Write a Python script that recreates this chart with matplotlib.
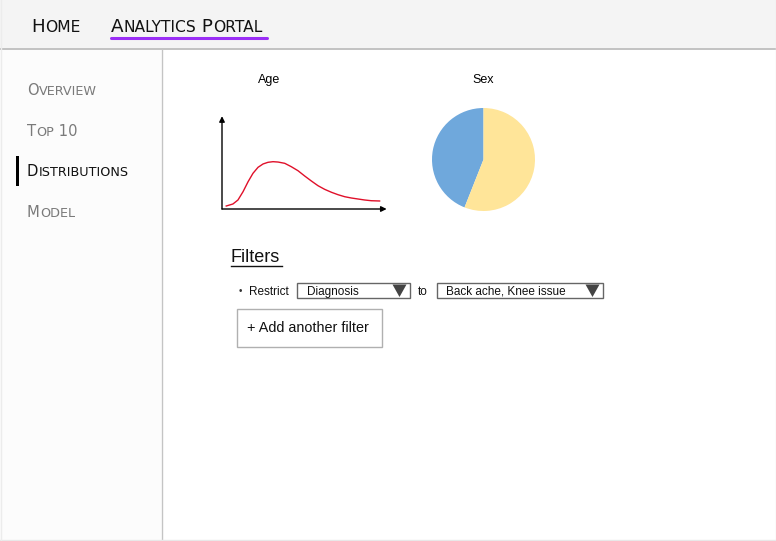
import matplotlib
matplotlib.use("Agg")
import matplotlib.pyplot as plt
from matplotlib.patches import Rectangle, Polygon

# ---------------- data ----------------
header_items = ["Home", "Analytics Portal"]
nav_items = ["Overview", "Top 10", "Distributions", "Model"]
active_nav = "Distributions"

age_title = "Age"
age_x = [2.6, 6.7, 9.8, 12.9, 16.0, 19.0, 22.1, 25.2, 28.2, 31.3, 34.4, 38.5,
         42.5, 46.6, 50.7, 54.8, 58.9, 63.0, 67.1, 71.2, 75.3, 79.3, 83.4,
         87.5, 91.6, 96.7]
age_density = [3.3, 5.5, 9.9, 19.0, 30.0, 39.2, 45.8, 49.5, 51.3, 52.0, 51.6,
               50.2, 46.5, 42.1, 36.3, 30.8, 25.6, 21.6, 18.4, 15.7, 13.5,
               12.1, 11.0, 9.9, 9.1, 8.8]

sex_title = "Sex"
sex_labels = ["Male", "Female"]
sex_values = [44, 56]
sex_colors = ["#6fa8dc", "#ffe599"]

filters_title = "Filters"
filter_field = "Diagnosis"
filter_value = "Back ache, Knee issue"
add_filter_label = "+ Add another filter"

# ---------------- figure ----------------
W, H = 776, 541
fig = plt.figure(figsize=(W / 100, H / 100), dpi=100)
bg = fig.add_axes([0, 0, 1, 1])
bg.set_xlim(0, W)
bg.set_ylim(H, 0)
bg.axis("off")

def fr(x0, y0, x1, y1):
    return [x0 / W, 1 - y1 / H, (x1 - x0) / W, (y1 - y0) / H]

# backgrounds
bg.add_patch(Rectangle((0, 0), W, H, facecolor="white", edgecolor="none"))
bg.add_patch(Rectangle((0, 0), W, 48, facecolor="#f4f4f4", edgecolor="none"))
bg.add_patch(Rectangle((0, 48), 161, H - 48, facecolor="#fcfcfc", edgecolor="none"))
bg.plot([0, W], [48.5, 48.5], color="#b8b8b8", lw=1.2)
bg.plot([161.5, 161.5], [48.5, H], color="#c4c4c4", lw=1.0)
bg.plot([0, W], [539.5, 539.5], color="#e8e8e8", lw=1.0)
bg.plot([0.5, 0.5], [0, H], color="#ececec", lw=1.0)
bg.plot([775.5, 775.5], [0, H], color="#ececec", lw=1.0)

renderer = fig.canvas.get_renderer()

def small_caps(x, y, text, big, small, color, family="DejaVu Sans"):
    """Draw text in synthetic small caps, left aligned at x, baseline y (pixels)."""
    segs = []
    for ch in text:
        big_ch = not ch.islower()
        if segs and segs[-1][1] == big_ch:
            segs[-1][0] += ch
        else:
            segs.append([ch, big_ch])
    cx = x
    for s, b in segs:
        t = bg.text(cx, y, s.upper(), fontsize=big if b else small, color=color,
                    family=family, ha="left", va="baseline")
        ext = t.get_window_extent(renderer)
        cx += ext.width
    return cx

# header
small_caps(31, 32, header_items[0], 13.2, 11.2, "#111111")
small_caps(111, 32, header_items[1], 13.2, 11.2, "#111111")
bg.plot([111, 267], [38, 38], color="#9a2ef5", lw=2.2, solid_capstyle="round")

# sidebar
nav_y = [95, 136, 176, 217]
for name, yy in zip(nav_items, nav_y):
    col = "#111111" if name == active_nav else "#7a7a7a"
    small_caps(27, yy, name, 10.6, 9.2, col)
    if name == active_nav:
        bg.add_patch(Rectangle((15.5, 156), 3, 29.5, facecolor="black", edgecolor="none"))

# ---------------- Age chart ----------------
sans = "Liberation Sans"
bg.text(269.5, 83, age_title, fontsize=9, family=sans, ha="center", va="baseline")
ax1 = fig.add_axes(fr(222, 118, 385, 209))
ax1.plot(age_x, age_density, color="#e0102a", lw=1.0)
ax1.set_xlim(0, 100)
ax1.set_ylim(0, 100)
ax1.axis("off")
ax1.annotate("", xy=(0, 1.02), xytext=(0, 0), xycoords="axes fraction",
             arrowprops=dict(arrowstyle="-|>", color="black", lw=1.0,
                             mutation_scale=8, shrinkA=0, shrinkB=0))
ax1.annotate("", xy=(1.01, 0), xytext=(0, 0), xycoords="axes fraction",
             arrowprops=dict(arrowstyle="-|>", color="black", lw=1.0,
                             mutation_scale=8, shrinkA=0, shrinkB=0))

# ---------------- Sex pie ----------------
bg.text(483.5, 83, sex_title, fontsize=9, family=sans, ha="center", va="baseline")
ax2 = fig.add_axes(fr(432, 108, 535, 211))
ax2.pie(sex_values, colors=sex_colors, startangle=90, counterclock=True,
        wedgeprops=dict(linewidth=0))
ax2.set_xlim(-1.0, 1.0)
ax2.set_ylim(-1.0, 1.0)
ax2.set_aspect("equal")
ax2.axis("off")

# ---------------- Filters ----------------
bg.text(231, 262, filters_title, fontsize=13, family=sans, ha="left", va="baseline",
        color="#111111")
bg.plot([231, 281.5], [265.5, 265.5], color="#111111", lw=1.0)

bg.text(240, 291.5, "\u2022", fontsize=7, family=sans, ha="center", va="center",
        color="#333333")
bg.text(249, 295, "Restrict", fontsize=8.5, family=sans, ha="left", va="baseline",
        color="#111111")

def dropdown(x0, x1, label):
    bg.add_patch(Rectangle((x0, 282.5), x1 - x0, 15.5, facecolor="white",
                           edgecolor="#666666", lw=1.0))
    bg.text(x0 + 10, 295, label, fontsize=8.5, family=sans, ha="left",
            va="baseline", color="#111111")
    bg.add_patch(Polygon([(x1 - 17, 284.5), (x1 - 3, 284.5), (x1 - 10, 297)],
                         closed=True, facecolor="#444444", edgecolor="none"))

dropdown(296.5, 409.5, filter_field)
bg.text(418, 295, "to", fontsize=8.5, family=sans, ha="left", va="baseline",
        color="#111111")
dropdown(436.5, 602.5, filter_value)

bg.add_patch(Rectangle((236.5, 308.5), 145, 38, facecolor="white",
                       edgecolor="#b0b0b0", lw=1.0))
bg.text(247, 332.5, add_filter_label, fontsize=10.4, family=sans, ha="left",
        va="baseline", color="#111111")

fig.savefig("out.png", dpi=100)
